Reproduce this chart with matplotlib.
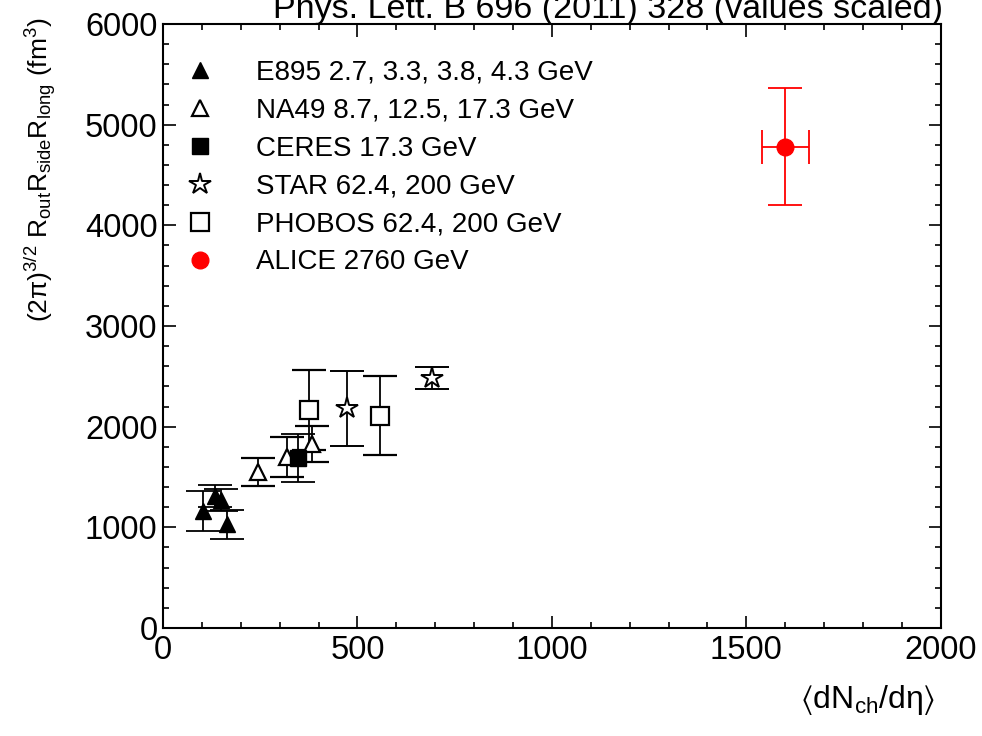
import numpy as np
import matplotlib
matplotlib.use("Agg")
import matplotlib.pyplot as plt
from matplotlib.lines import Line2D
from matplotlib.ticker import MultipleLocator

plt.rcParams['font.family'] = ['Liberation Sans', 'DejaVu Sans']
plt.rcParams['mathtext.fontset'] = 'custom'
plt.rcParams['mathtext.rm'] = 'Liberation Sans'
plt.rcParams['mathtext.it'] = 'Liberation Sans:italic'
plt.rcParams['mathtext.fallback'] = 'stix'

# values
e895_x = [103, 134, 148, 164]
e895_y = [1160, 1310, 1270, 1030]
e895_err = [200, 110, 110, 145]

na49_x = [245, 318, 382]
na49_y = [1550, 1700, 1830]
na49_err = [140, 200, 180]

ceres_x = [348]
ceres_y = [1690]
ceres_err = [240]

star_x = [472, 691]
star_y = [2182, 2480]
star_err = [370, 110]

phobos_x = [375, 558]
phobos_y = [2165, 2110]
phobos_err = [400, 390]

alice_x = [1600]
alice_y = [4780]
alice_yerr = [580]
alice_xerr = [60]

labels = ["E895 2.7, 3.3, 3.8, 4.3 GeV",
          "NA49 8.7, 12.5, 17.3 GeV",
          "CERES 17.3 GeV",
          "STAR 62.4, 200 GeV",
          "PHOBOS 62.4, 200 GeV",
          "ALICE 2760 GeV"]

fig = plt.figure(figsize=(9.82, 7.36), dpi=100)
ax = fig.add_axes([0.166, 0.1467, 0.792, 0.8207])

eb = dict(capsize=12, elinewidth=1.3, capthick=1.3, linestyle='none')

ax.errorbar(e895_x, e895_y, yerr=e895_err, marker='^', ms=12,
            color='black', mfc='black', **eb)
ax.errorbar(na49_x, na49_y, yerr=na49_err, marker='^', ms=12,
            color='black', mfc='white', mew=1.6, **eb)
ax.errorbar(ceres_x, ceres_y, yerr=ceres_err, marker='s', ms=12,
            color='black', mfc='black', **eb)
ax.errorbar(star_x, star_y, yerr=star_err, marker='*', ms=16,
            color='black', mfc='white', mew=1.4, **eb)
ax.errorbar(phobos_x, phobos_y, yerr=phobos_err, marker='s', ms=13,
            color='black', mfc='white', mew=1.6, **eb)
ax.errorbar(alice_x, alice_y, yerr=alice_yerr, xerr=alice_xerr, marker='o',
            ms=12, color='red', mfc='red', **eb)

ax.set_xlim(0, 2000)
ax.set_ylim(0, 6000)
ax.xaxis.set_major_locator(MultipleLocator(500))
ax.xaxis.set_minor_locator(MultipleLocator(100))
ax.yaxis.set_major_locator(MultipleLocator(1000))
ax.yaxis.set_minor_locator(MultipleLocator(200))
ax.tick_params(which='both', direction='in', top=True, right=True,
               width=1.2, labelsize=23.5)
ax.tick_params(which='major', length=9)
ax.tick_params(which='minor', length=4.5)
ax.tick_params(axis='x', pad=5)
ax.tick_params(axis='y', pad=4)
for s in ax.spines.values():
    s.set_linewidth(1.5)

handles = [
    Line2D([], [], ls='none', marker='^', ms=12, color='black', mfc='black'),
    Line2D([], [], ls='none', marker='^', ms=12, color='black', mfc='white', mew=1.6),
    Line2D([], [], ls='none', marker='s', ms=12, color='black', mfc='black'),
    Line2D([], [], ls='none', marker='*', ms=16, color='black', mfc='white', mew=1.4),
    Line2D([], [], ls='none', marker='s', ms=13, color='black', mfc='white', mew=1.6),
    Line2D([], [], ls='none', marker='o', ms=12, color='red', mfc='red'),
]
ax.legend(handles, labels, loc='upper left', bbox_to_anchor=(0.003, 0.973),
          frameon=False, fontsize=20, handlelength=1.1, handletextpad=1.45,
          labelspacing=0.43, borderaxespad=0.3)

fig.text(0.960, 1 - 18 / 736, "Phys. Lett. B 696 (2011) 328 (values scaled)",
         ha='right', va='baseline', fontsize=24.5)
fig.text(40 / 982, 1 - 170 / 736,
         r'$\mathrm{(2\pi)^{3/2}\ R_{out}R_{side}R_{long}\ (fm^{3})}$',
         rotation=90, ha='center', va='center', fontsize=19)
fig.text(0.952, 1 - 700 / 736, r'$\mathrm{\langle dN_{ch}/d\eta\rangle}$',
         ha='right', va='center', fontsize=23)

fig.savefig("out.png", dpi=100)
